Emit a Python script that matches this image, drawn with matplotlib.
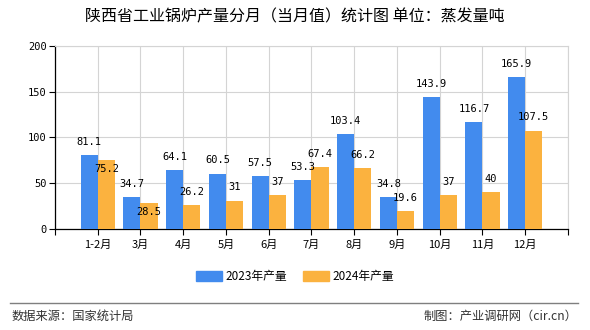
import numpy as np
import matplotlib
matplotlib.use("Agg")
import matplotlib.pyplot as plt
from matplotlib.patches import Patch

plt.rcParams['font.family'] = ['Noto Sans CJK SC', 'DejaVu Sans']

# data
months = ['1-2月', '3月', '4月', '5月', '6月', '7月', '8月', '9月', '10月', '11月', '12月']
prod_2023 = [81.1, 34.7, 64.1, 60.5, 57.5, 53.3, 103.4, 34.8, 143.9, 116.7, 165.9]
prod_2024 = [75.2, 28.5, 26.2, 31, 37, 67.4, 66.2, 19.6, 37, 40, 107.5]
label_2023 = ['81.1', '34.7', '64.1', '60.5', '57.5', '53.3', '103.4', '34.8', '143.9', '116.7', '165.9']
label_2024 = ['75.2', '28.5', '26.2', '31', '37', '67.4', '66.2', '19.6', '37', '40', '107.5']
# orange labels that sit inside the bar top in the reference
below_2024 = [True, True, False, False, False, False, False, False, False, False, False]
series_names = ['2023年产量', '2024年产量']

BLUE = '#428BEE'
ORANGE = '#FBB23F'
GRID = '#D4D4D4'
MONO = 'DejaVu Sans Mono'

fig = plt.figure(figsize=(5.9, 3.3), dpi=100)
ax = fig.add_axes([0.0932, 0.306, 0.8695, 0.555])

x = np.arange(len(months))
w = 0.4
ax.bar(x - w/2, prod_2023, width=w, color=BLUE, zorder=3)
ax.bar(x + w/2, prod_2024, width=w, color=ORANGE, zorder=3)

#value labels
for i in range(len(months)):
    ax.annotate(label_2023[i], (x[i] - w/2, prod_2023[i]), xytext=(0, 9.5),
                textcoords='offset points', ha='center', va='center',
                fontsize=7.5, family=MONO, zorder=5)
    dy = -6.5 if below_2024[i] else 9.5
    ax.annotate(label_2024[i], (x[i] + w/2, prod_2024[i]), xytext=(0, dy),
                textcoords='offset points', ha='center', va='center',
                fontsize=7.5, family=MONO, zorder=5)

ax.set_xlim(-1, 11)
ax.set_ylim(0, 200)
ax.set_yticks([0, 50, 100, 150, 200])
ax.set_yticklabels(['0', '50', '100', '150', '200'], family=MONO, fontsize=7.5)
ax.set_xticks(np.arange(-1, 12))
ax.set_xticklabels([''] + months + [''], fontsize=8)
ax.tick_params(axis='both', length=4, width=0.8, color='black', pad=2)
ax.tick_params(axis='x', pad=4)

ax.grid(True, color=GRID, linewidth=0.8, zorder=0)
for s in ['top', 'right']:
    ax.spines[s].set_color(GRID)
for s in ['left', 'bottom']:
    ax.spines[s].set_color('black')
    ax.spines[s].set_linewidth(0.9)

fig.text(0.5, 0.948, '陕西省工业锅炉产量分月（当月值）统计图 单位：蒸发量吨',
         ha='center', va='center', fontsize=11.5)

handles = [Patch(color=BLUE), Patch(color=ORANGE)]
fig.legend(handles, series_names, loc='center', bbox_to_anchor=(0.5, 0.162),
           ncol=2, frameon=False, fontsize=8.5, handlelength=2.2, handleheight=0.9,
           handletextpad=0.3, columnspacing=1.4)

fig.add_artist(plt.Line2D([0.017, 0.98], [0.082, 0.082], color='#7F7F7F',
                          linewidth=1.0, transform=fig.transFigure))
fig.text(0.02, 0.042, '数据来源：国家统计局', ha='left', va='center', fontsize=8.8, color='#333333')
fig.text(0.978, 0.042, '制图：产业调研网（cir.cn）', ha='right', va='center', fontsize=8.8, color='#333333')

fig.savefig('out.png', dpi=100)
